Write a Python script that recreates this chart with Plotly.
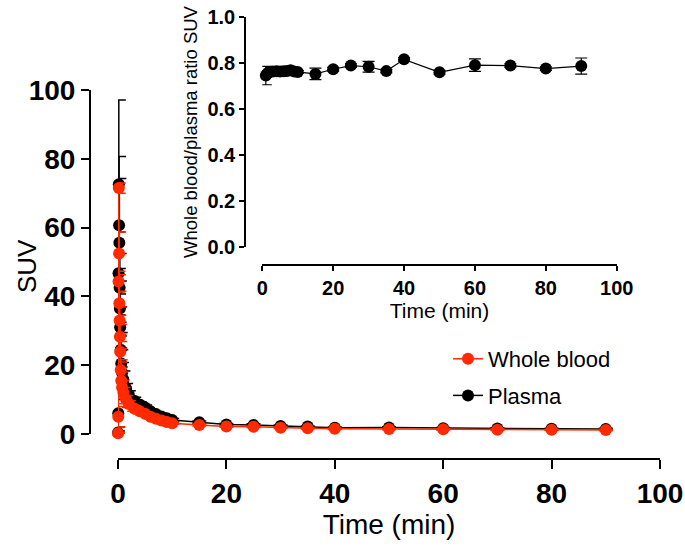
import plotly.graph_objects as go

# ---------------- data ----------------
time_min = [0, 0.05, 0.1, 0.15, 0.2, 0.25, 0.3, 0.35, 0.4, 0.5, 0.6, 0.75, 1.0,
            1.5, 2, 3, 4, 5, 6, 7, 8, 9, 10, 15, 20, 25, 30, 35, 40, 50, 60, 70, 80, 90]
whole_blood = [0.2, 5.0, 44.3, 71.5, 52.5, 38.0, 33.0, 28.3, 23.9, 18.6, 15.5, 13.5, 12.0,
               10.0, 8.7, 7.4, 6.6, 5.9, 5.0, 4.4, 3.9, 3.5, 3.1, 2.6, 2.15, 2.1, 1.8, 1.65, 1.5,
               1.45, 1.35, 1.25, 1.2, 1.15]
whole_blood_sd = [0.3, 3.0, 3.0, 1.5, 6.2, 3.5, 4.0, 3.5, 3.0, 3.0, 2.5, 2.0, 1.5,
                  1.2, 1.0, 0.8, 0.7, 0.6, 0.5, 0.4, 0.4, 0.3, 0.3, 0.3, 0.2, 0.2, 0.2, 0.2, 0.2,
                  0.2, 0.2, 0.2, 0.2, 0.2]
plasma = [0.4, 6.0, 46.7, 72.6, 60.7, 55.6, 42.5, 36.5, 31.0, 24.5, 20.5, 17.8, 15.8,
          13.2, 11.4, 9.7, 8.6, 7.7, 6.6, 5.8, 5.1, 4.6, 4.1, 3.45, 2.75, 2.65, 2.3, 2.15, 1.8,
          1.9, 1.7, 1.6, 1.5, 1.45]
plasma_sd = [0.5, 4.0, 12.0, 24.5, 20.0, 18.7, 10.0, 8.0, 6.0, 5.0, 4.0, 3.0, 2.5,
             1.5, 1.2, 1.0, 0.8, 0.7, 0.6, 0.5, 0.5, 0.4, 0.4, 0.3, 0.3, 0.3, 0.3, 0.2, 0.2,
             0.2, 0.2, 0.2, 0.2, 0.2]

ratio_time = [1, 1.5, 2, 3, 4, 5, 6, 7, 8, 9, 10, 15, 20, 25, 30, 35, 40, 50, 60, 70, 80, 90]
ratio = [0.745, 0.755, 0.76, 0.762, 0.763, 0.762, 0.763, 0.765, 0.768, 0.762, 0.76,
         0.752, 0.772, 0.788, 0.783, 0.764, 0.815, 0.759, 0.79, 0.788, 0.775, 0.786]
ratio_sd = [0.04, 0.01, 0.008, 0.006, 0.006, 0.006, 0.006, 0.006, 0.006, 0.006, 0.006,
            0.025, 0.008, 0.008, 0.023, 0.008, 0.008, 0.008, 0.027, 0.008, 0.008, 0.035]

main_ticks = [0, 20, 40, 60, 80, 100]
inset_yticks = [0.0, 0.2, 0.4, 0.6, 0.8, 1.0]

# ---------------- layout helpers ----------------
W, H = 685, 548
ml, mr, mt, mb = 90, 25, 10, 89
pw, ph = W - ml - mr, H - mt - mb


def fx(px):
    return (px - ml) / pw


def fy(py):
    return (H - mb - py) / ph


RED = "#FF2A00"
FONT = "Liberation Sans"

fig = go.Figure()

fig.add_trace(go.Scatter(
    x=time_min, y=plasma, name="Plasma", mode="lines+markers",
    line=dict(color="black", width=1.5),
    marker=dict(color="black", size=12),
    error_y=dict(type="data", array=plasma_sd, color="black", thickness=1.5, width=7),
    cliponaxis=False, legendgroup="p", legendrank=2,
))
fig.add_trace(go.Scatter(
    x=time_min, y=whole_blood, name="Whole blood", mode="lines+markers",
    line=dict(color=RED, width=1.5),
    marker=dict(color=RED, size=12),
    error_y=dict(type="data", array=whole_blood_sd, color=RED, thickness=1.5, width=7),
    cliponaxis=False, legendgroup="b", legendrank=1,
))
fig.add_trace(go.Scatter(
    x=ratio_time, y=ratio, name="ratio", mode="lines+markers", showlegend=False,
    xaxis="x2", yaxis="y2",
    line=dict(color="black", width=1.2),
    marker=dict(color="black", size=12),
    error_y=dict(type="data", array=ratio_sd, color="black", thickness=1.2, width=6),
    cliponaxis=False,
))

axis_common = dict(showgrid=False, zeroline=False, showline=True, linecolor="black",
                   ticks="outside", tickcolor="black", automargin=False)

fig.update_layout(
    template="none",
    width=W, height=H,
    margin=dict(l=ml, r=mr, t=mt, b=mb, autoexpand=False),
    paper_bgcolor="white", plot_bgcolor="white",
    font=dict(family=FONT, color="black"),
    xaxis=dict(**axis_common, domain=[fx(118), fx(660)], range=[0, 100], anchor="free",
               position=0, tickvals=main_ticks, linewidth=2, tickwidth=2, ticklen=9,
               tickfont=dict(size=28, weight="bold", family=FONT),
               title=dict(text="Time (min)", font=dict(size=28, family=FONT), standoff=4)),
    yaxis=dict(**axis_common, domain=[fy(434), fy(90)], range=[0, 100], anchor="free",
               position=0, tickvals=main_ticks, linewidth=2, tickwidth=2, ticklen=8,
               tickfont=dict(size=28, weight="bold", family=FONT)),
    xaxis2=dict(**axis_common, domain=[fx(262.3), fx(616.7)], range=[0, 100], anchor="free",
                position=fy(265), tickvals=main_ticks, linewidth=1.5, tickwidth=1.5, ticklen=5,
                tickfont=dict(size=20, weight="bold", family=FONT),
                title=dict(text="Time (min)", font=dict(size=21, family=FONT), standoff=2)),
    yaxis2=dict(**axis_common, domain=[fy(247.3), fy(16.7)], range=[0, 1], anchor="free",
                position=fx(245), tickvals=inset_yticks, tickformat=".1f", linewidth=1.5,
                tickwidth=1.5, ticklen=5,
                tickfont=dict(size=20, weight="bold", family=FONT),
                title=dict(text="Whole blood/plasma ratio SUV", font=dict(size=18.5, family=FONT),
                           standoff=4)),
    legend=dict(x=fx(448), y=fy(338), xanchor="left", yanchor="top",
                font=dict(size=22, family=FONT), bgcolor="rgba(0,0,0,0)",
                traceorder="grouped", tracegroupgap=5),
    annotations=[dict(text="SUV", textangle=-90, xref="paper", yref="paper",
                      x=fx(27), y=fy(266), xanchor="center", yanchor="middle",
                      showarrow=False, font=dict(size=26, family=FONT))],
)

fig.write_html("out.html", config={"displayModeBar": False},
               post_script="document.body.style.margin='0';document.body.style.overflow='hidden';")
